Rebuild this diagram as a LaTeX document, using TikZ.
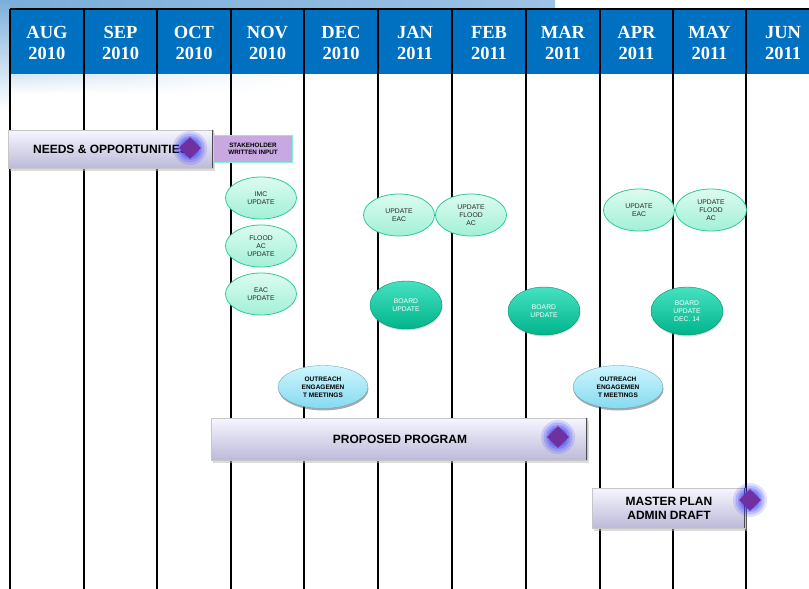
\documentclass[tikz,border=0pt]{standalone}
\usepackage{fontspec}
\setmainfont{Liberation Serif}
\newfontfamily\arial{Liberation Sans}
\usetikzlibrary{shapes.geometric,shadows,shadings}
\definecolor{hdrblue}{HTML}{0070C0}
\definecolor{skyA}{HTML}{7AAED8}
\definecolor{skyB}{HTML}{9EC2E4}
\definecolor{skyC}{HTML}{D4E4F3}
\definecolor{mintedge}{HTML}{2EC89E}
\definecolor{mintTop}{HTML}{DCFCF0}
\definecolor{mintBot}{HTML}{A2F0D6}
\definecolor{boardTop}{HTML}{45E2C0}
\definecolor{boardBot}{HTML}{00B48C}
\definecolor{outTop}{HTML}{CDF5FD}
\definecolor{outBot}{HTML}{86DAF0}
\definecolor{barTop}{HTML}{F6F6FF}
\definecolor{barMid}{HTML}{DEDCFA}
\definecolor{barBot}{HTML}{BCBAD8}
\definecolor{diam}{HTML}{7030A0}
\definecolor{stkfill}{HTML}{C8A8E0}
\definecolor{stkedge}{HTML}{86F0D4}
\tikzset{
  month/.style={text=white, font=\fontsize{18.5}{21}\selectfont\bfseries, align=center, inner sep=0},
  thickcol/.style={line width=2pt},
  thincol/.style={line width=1.1pt},
  mint/.style={ellipse, draw=mintedge, line width=0.8pt, top color=mintTop, bottom color=mintBot,
    minimum width=71pt, minimum height=42pt, inner sep=0, align=center,
    font=\arial\fontsize{6.8}{8}\selectfont, text=black!85},
  board/.style={ellipse, top color=boardTop, bottom color=boardBot, draw=boardBot!80!black, line width=0.4pt,
    drop shadow={shadow xshift=0.5pt, shadow yshift=-1.5pt, fill=gray!60},
    minimum width=72pt, minimum height=48pt, inner sep=0, align=center,
    font=\arial\fontsize{6.8}{8}\selectfont, text=white},
  outreach/.style={ellipse, top color=outTop, bottom color=outBot, draw=outBot!70!black, line width=0.3pt,
    drop shadow={shadow xshift=0.5pt, shadow yshift=-2pt, fill=gray!70!black},
    minimum width=90pt, minimum height=43pt, inner sep=0, align=center,
    font=\arial\bfseries\fontsize{6.5}{8}\selectfont, text=black},
  bar/.style={rectangle, top color=barTop, middle color=barMid, bottom color=barBot,
    draw=gray!45, line width=0.6pt,
    drop shadow={shadow xshift=2pt, shadow yshift=-2.5pt, fill=gray!55},
    inner sep=0, align=center, font=\arial\bfseries\fontsize{12}{14}\selectfont},
  stake/.style={rectangle, fill=stkfill, draw=stkedge, line width=1.6pt, inner sep=0,
    minimum width=79pt, minimum height=27pt, align=center,
    font=\arial\bfseries\fontsize{6.3}{7.6}\selectfont},
  gem/.style={diamond, fill=diam, minimum width=22pt, minimum height=22pt, inner sep=0}
}
\newcommand{\glowat}[1]{%
  \foreach \r/\o in {17/0.15,14.5/0.2,12/0.28,9.5/0.35}{\fill[blue!80!white, opacity=\o] (#1) circle (\r pt);}}
\begin{document}
\begin{tikzpicture}[x=1pt,y=-1pt]
\useasboundingbox (0,0) rectangle (809,589);
\fill[white] (0,0) rectangle (809,589);
% sky background
\shade[left color=skyA, right color=skyB] (0,0) rectangle (555,10);
\shade[top color=skyA, bottom color=white] (0,0) rectangle (10,110);
\shade[upper left=skyC, upper right=white, lower left=white, lower right=white] (10,74) rectangle (300,94);
% header band
\fill[hdrblue] (10,9) rectangle (809,74);
\draw[line width=1.6pt] (10,8.8) -- (809,8.8);
% column lines
\foreach \x in {10,84,452,526}{\draw[thickcol] (\x,9) -- (\x,589);}
\foreach \x in {157,231,304,600,673,746}{\draw[thincol] (\x,9) -- (\x,589);}
\draw[line width=1.5pt] (378,9) -- (378,589);
% months
\node[month] (m1) at (47,43) {AUG\\2010};
\node[month] (m2) at (120.5,43) {SEP\\2010};
\node[month] (m3) at (194,43) {OCT\\2010};
\node[month] (m4) at (267.5,43) {NOV\\2010};
\node[month] (m5) at (341,43) {DEC\\2010};
\node[month] (m6) at (415,43) {JAN\\2011};
\node[month] (m7) at (489,43) {FEB\\2011};
\node[month] (m8) at (563,43) {MAR\\2011};
\node[month] (m9) at (636.5,43) {APR\\2011};
\node[month] (m10) at (709.5,43) {MAY\\2011};
\node[month] (m11) at (783,43) {JUN\\2011};
% needs bar
\node[bar, minimum width=205pt, minimum height=38pt] (needs) at (110.5,149) {NEEDS \& OPPORTUNITIES};
\draw[gray!60!black, line width=1.4pt] ([xshift=-0.7pt]needs.north east) -- ([xshift=-0.7pt]needs.south east);
\glowat{190,148}
\node[gem] (g1) at (190,148) {};
\node[stake] (stk) at (253,149) {STAKEHOLDER\\WRITTEN INPUT};
% mint ellipses
\node[mint] (imc) at (261,198) {IMC\\UPDATE};
\node[mint] (flood1) at (261,246) {FLOOD\\AC\\UPDATE};
\node[mint] (eac1) at (261,294) {EAC\\UPDATE};
\node[mint] (eac2) at (399,215) {UPDATE\\EAC};
\node[mint] (flood2) at (471,215) {UPDATE\\FLOOD\\AC};
\node[mint] (eac3) at (639,210) {UPDATE\\EAC};
\node[mint] (flood3) at (711,210) {UPDATE\\FLOOD\\AC};
% board updates
\node[board] (b1) at (406,305) {BOARD\\UPDATE};
\node[board] (b2) at (544,311) {BOARD\\UPDATE};
\node[board] (b3) at (687,311) {BOARD\\UPDATE\\DEC. 14};
% outreach
\node[outreach] (o1) at (323,387) {OUTREACH\\ENGAGEMEN\\T MEETINGS};
\node[outreach] (o2) at (618,387) {OUTREACH\\ENGAGEMEN\\T MEETINGS};
% proposed program
\node[bar, minimum width=376pt, minimum height=42pt] (prop) at (399,439) {};
\draw[gray!60!black, line width=1.4pt] ([xshift=-0.7pt]prop.north east) -- ([xshift=-0.7pt]prop.south east);
\node[font=\arial\bfseries\fontsize{12}{14}\selectfont, inner sep=0] (propt) at (400,439) {PROPOSED PROGRAM};
\glowat{558,437}
\node[gem] (g2) at (558,437) {};
% master plan
\node[bar, minimum width=153pt, minimum height=40pt] (master) at (668.5,508) {};
\draw[gray!60!black, line width=1.4pt] ([xshift=-0.7pt]master.north east) -- ([xshift=-0.7pt]master.south east);
\node[font=\arial\bfseries\fontsize{12}{14}\selectfont, align=center, inner sep=0] (mastert) at (669,508) {MASTER PLAN\\ADMIN DRAFT};
\glowat{750,500}
\node[gem] (g3) at (750,500) {};
\end{tikzpicture}
\end{document}
